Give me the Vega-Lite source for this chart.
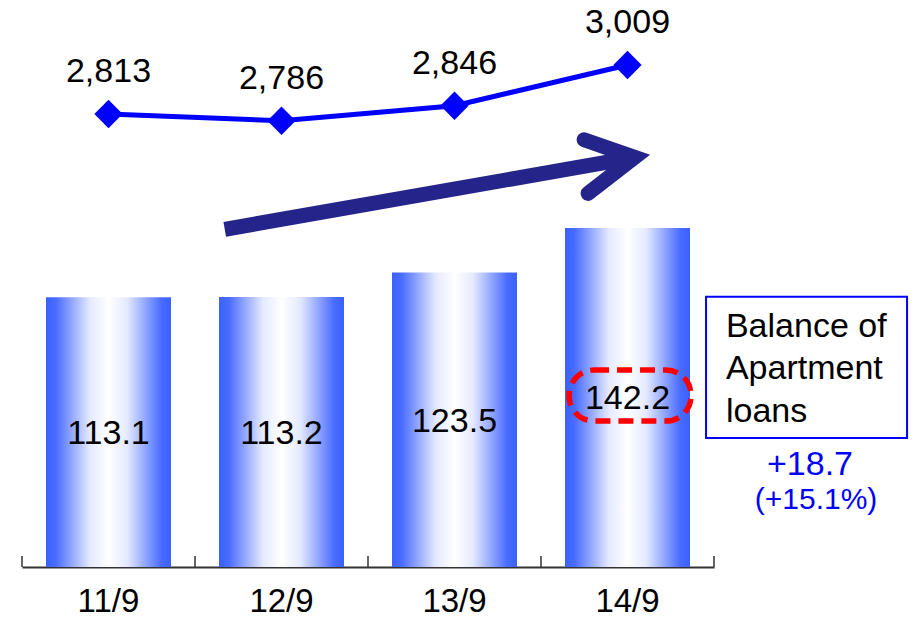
{
  "$schema": "https://vega.github.io/schema/vega-lite/v6.json",
  "width": 692,
  "height": 567,
  "autosize": {"type": "none"},
  "padding": {"left": 22, "top": 0, "right": 202, "bottom": 50},
  "background": "white",
  "config": {"view": {"stroke": null}, "font": "Liberation Sans"},
  "datasets": {
    "loans": [
      {"period": "11/9", "balance": 113.1, "customers": 2813},
      {"period": "12/9", "balance": 113.2, "customers": 2786},
      {"period": "13/9", "balance": 123.5, "customers": 2846},
      {"period": "14/9", "balance": 142.2, "customers": 3009}
    ],
    "tickMarks": [{"tx": 0}, {"tx": 1}, {"tx": 2}, {"tx": 3}, {"tx": 4}],
    "arrowShaft": [
      {"ax": 1.172, "ay": 141.6, "seq": 1},
      {"ax": 3.541, "ay": 171.8, "seq": 2}
    ],
    "arrowHead": [
      {"ax": 3.249, "ay": 179.2, "seq": 1},
      {"ax": 3.541, "ay": 171.8, "seq": 2},
      {"ax": 3.272, "ay": 156.7, "seq": 3}
    ],
    "highlight": [{"hx": 3.162, "hx2": 3.867, "hy": 61.2, "hy2": 82.6}],
    "noteBox": [{"bx": 3.954, "bx2": 5.116, "by": 54.1, "by2": 113.3}],
    "noteText": [{"tx": 4.069, "ty": 96.5, "label": ["Balance of", "Apartment", "loans"]}],
    "change": [{"tx": 4.555, "ty": 38.6, "label": "+18.7"}],
    "pct": [{"tx": 4.59, "ty": 24.3, "label": "(+15.1%)"}]
  },
  "layer": [
    {
      "data": {"name": "loans"},
      "mark": {
        "type": "bar",
        "fill": {
          "gradient": "linear", "x1": 0, "x2": 1, "y1": 0, "y2": 0,
          "stops": [
            {"offset": 0, "color": "#3A60FF"},
            {"offset": 0.08, "color": "#4A6DFF"},
            {"offset": 0.35, "color": "#E4E9FF"},
            {"offset": 0.5, "color": "#FFFFFF"},
            {"offset": 0.65, "color": "#E4E9FF"},
            {"offset": 0.92, "color": "#4A6DFF"},
            {"offset": 1, "color": "#3A60FF"}
          ]
        }
      },
      "encoding": {
        "x": {
          "field": "period", "type": "nominal", "sort": null,
          "scale": {"type": "band", "paddingInner": 0.2775, "paddingOuter": 0.13875},
          "axis": {
            "title": null, "labelAngle": 0, "labelFontSize": 33, "labelColor": "black",
            "labelFont": "Liberation Sans",
            "domainColor": "#333333", "domainWidth": 2,
            "ticks": false,
            "labelPadding": 18
          }
        },
        "y": {
          "field": "balance", "type": "quantitative",
          "scale": {"domain": [0, 237.8], "nice": false, "zero": true},
          "axis": null
        }
      }
    },
    {
      "data": {"name": "tickMarks"},
      "mark": {"type": "rule", "color": "#333333", "strokeWidth": 1.5},
      "encoding": {
        "x": {"field": "tx", "type": "quantitative", "scale": {"domain": [0, 4], "nice": false, "zero": false}, "axis": null},
        "y": {"datum": 0, "type": "quantitative", "scale": {"domain": [0, 237.8], "nice": false}, "axis": null},
        "y2": {"datum": 4.6}
      }
    },
    {
      "data": {"name": "loans"},
      "mark": {"type": "text", "fontSize": 34, "color": "black", "baseline": "middle", "dy": 2},
      "encoding": {
        "x": {
          "field": "period", "type": "nominal", "sort": null,
          "scale": {"type": "band", "paddingInner": 0.2775, "paddingOuter": 0.13875},
          "axis": null
        },
        "y": {
          "field": "balance", "type": "quantitative",
          "scale": {"domain": [0, 475.6], "nice": false},
          "axis": null
        },
        "text": {"field": "balance", "type": "quantitative", "format": ".1f"}
      }
    },
    {
      "data": {"name": "loans"},
      "mark": {"type": "line", "color": "#0000FF", "strokeWidth": 5},
      "encoding": {
        "x": {
          "field": "period", "type": "nominal", "sort": null,
          "scale": {"type": "band", "paddingInner": 0.2775, "paddingOuter": 0.13875},
          "axis": null
        },
        "y": {
          "field": "customers", "type": "quantitative",
          "scale": {"domain": [1001, 3269], "nice": false, "zero": false},
          "axis": null
        }
      }
    },
    {
      "data": {"name": "loans"},
      "mark": {"type": "point", "shape": "diamond", "filled": true, "size": 800, "color": "#0000FF", "opacity": 1},
      "encoding": {
        "x": {
          "field": "period", "type": "nominal", "sort": null,
          "scale": {"type": "band", "paddingInner": 0.2775, "paddingOuter": 0.13875},
          "axis": null
        },
        "y": {
          "field": "customers", "type": "quantitative",
          "scale": {"domain": [1001, 3269], "nice": false, "zero": false},
          "axis": null
        }
      }
    },
    {
      "data": {"name": "loans"},
      "mark": {"type": "text", "fontSize": 34, "color": "black", "baseline": "alphabetic", "dy": -32},
      "encoding": {
        "x": {
          "field": "period", "type": "nominal", "sort": null,
          "scale": {"type": "band", "paddingInner": 0.2775, "paddingOuter": 0.13875},
          "axis": null
        },
        "y": {
          "field": "customers", "type": "quantitative",
          "scale": {"domain": [1001, 3269], "nice": false, "zero": false},
          "axis": null
        },
        "text": {"field": "customers", "type": "quantitative", "format": ","}
      }
    },
    {
      "data": {"name": "arrowShaft"},
      "mark": {"type": "line", "color": "#24248B", "strokeWidth": 15, "strokeCap": "butt"},
      "encoding": {
        "x": {"field": "ax", "type": "quantitative", "scale": {"domain": [0, 4], "nice": false, "zero": false}, "axis": null},
        "y": {"field": "ay", "type": "quantitative", "scale": {"domain": [0, 237.8], "nice": false}, "axis": null},
        "order": {"field": "seq"}
      }
    },
    {
      "data": {"name": "arrowHead"},
      "mark": {"type": "line", "color": "#24248B", "strokeWidth": 15, "strokeCap": "round", "strokeJoin": "miter"},
      "encoding": {
        "x": {"field": "ax", "type": "quantitative", "scale": {"domain": [0, 4], "nice": false, "zero": false}, "axis": null},
        "y": {"field": "ay", "type": "quantitative", "scale": {"domain": [0, 237.8], "nice": false}, "axis": null},
        "order": {"field": "seq"}
      }
    },
    {
      "data": {"name": "highlight"},
      "mark": {"type": "rect", "fill": null, "fillOpacity": 0, "stroke": "#FF0000", "strokeWidth": 5.5, "strokeDash": [15, 8], "cornerRadius": 25},
      "encoding": {
        "x": {"field": "hx", "type": "quantitative", "scale": {"domain": [0, 4], "nice": false, "zero": false}, "axis": null},
        "x2": {"field": "hx2"},
        "y": {"field": "hy", "type": "quantitative", "scale": {"domain": [0, 237.8], "nice": false}, "axis": null},
        "y2": {"field": "hy2"}
      }
    },
    {
      "data": {"name": "noteBox"},
      "mark": {"type": "rect", "fill": "white", "stroke": "#0000FF", "strokeWidth": 2},
      "encoding": {
        "x": {"field": "bx", "type": "quantitative", "scale": {"domain": [0, 4], "nice": false, "zero": false}, "axis": null},
        "x2": {"field": "bx2"},
        "y": {"field": "by", "type": "quantitative", "scale": {"domain": [0, 237.8], "nice": false}, "axis": null},
        "y2": {"field": "by2"}
      }
    },
    {
      "data": {"name": "noteText"},
      "mark": {"type": "text", "fontSize": 34, "color": "black", "align": "left", "baseline": "alphabetic", "lineHeight": 42.5},
      "encoding": {
        "x": {"field": "tx", "type": "quantitative", "scale": {"domain": [0, 4], "nice": false, "zero": false}, "axis": null},
        "y": {"field": "ty", "type": "quantitative", "scale": {"domain": [0, 237.8], "nice": false}, "axis": null},
        "text": {"field": "label"}
      }
    },
    {
      "data": {"name": "change"},
      "mark": {"type": "text", "fontSize": 34, "color": "#0000FF", "align": "center", "baseline": "alphabetic"},
      "encoding": {
        "x": {"field": "tx", "type": "quantitative", "scale": {"domain": [0, 4], "nice": false, "zero": false}, "axis": null},
        "y": {"field": "ty", "type": "quantitative", "scale": {"domain": [0, 237.8], "nice": false}, "axis": null},
        "text": {"field": "label"}
      }
    },
    {
      "data": {"name": "pct"},
      "mark": {"type": "text", "fontSize": 30, "color": "#0000FF", "align": "center", "baseline": "alphabetic"},
      "encoding": {
        "x": {"field": "tx", "type": "quantitative", "scale": {"domain": [0, 4], "nice": false, "zero": false}, "axis": null},
        "y": {"field": "ty", "type": "quantitative", "scale": {"domain": [0, 237.8], "nice": false}, "axis": null},
        "text": {"field": "label"}
      }
    }
  ],
  "resolve": {"scale": {"x": "independent", "y": "independent"}}
}
